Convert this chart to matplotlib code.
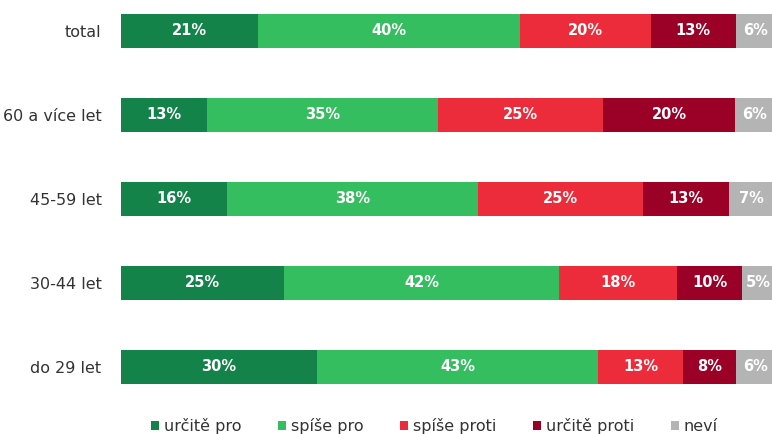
import matplotlib.pyplot as plt
from matplotlib.patches import Patch

# kategorie (shora dolu)
kategorie = ["total", "60 a více let", "45-59 let", "30-44 let", "do 29 let"]
odpovedi = ["určitě pro", "spíše pro", "spíše proti", "určitě proti", "neví"]

urcite_pro = [21, 13, 16, 25, 30]
spise_pro = [40, 35, 38, 42, 43]
spise_proti = [20, 25, 25, 18, 13]
urcite_proti = [13, 20, 13, 10, 8]
nevi = [6, 6, 7, 5, 6]

barvy = ["#13834a", "#35be5f", "#ec2c3b", "#9b0026", "#b4b4b4"]

serie = [urcite_pro, spise_pro, spise_proti, urcite_proti, nevi]

fig = plt.figure(figsize=(7.72, 4.34), dpi=100)
ax = fig.add_axes([0.1567, 0.0673, 0.847, 0.9194])

y = list(range(len(kategorie)))
soucty = [sum(s[i] for s in serie) for i in y]
zleva = [0.0] * len(kategorie)

for hodnoty, barva in zip(serie, barvy):
    # sirky prepocitane na 100 % v kazdem radku
    sirky = [hodnoty[i] / soucty[i] * 100 for i in y]
    ax.barh(y, sirky, left=zleva, height=0.405, color=barva, edgecolor="none")
    for i in y:
        ax.text(zleva[i] + sirky[i] / 2, i, f"{hodnoty[i]}%", ha="center", va="center",
                color="white", fontsize=10.5, fontweight="bold")
    zleva = [zleva[i] + sirky[i] for i in y]

ax.set_xlim(0, 100)
ax.set_ylim(4.45, -0.3)
ax.set_yticks(y)
ax.set_yticklabels(kategorie, fontsize=11.5, color="#333333")
ax.tick_params(axis="y", length=0, pad=14)
ax.set_xticks([])
for s in ax.spines.values():
    s.set_visible(False)

handles = [Patch(facecolor=b, edgecolor="none") for b in barvy]
fig.legend(handles, odpovedi, loc="center", bbox_to_anchor=(0.563, 0.018), ncol=5,
           frameon=False, fontsize=11.5, handlelength=0.5, handleheight=0.5,
           handletextpad=0.3, columnspacing=2.3, labelcolor="#333333")

fig.savefig("out.png", dpi=100)
